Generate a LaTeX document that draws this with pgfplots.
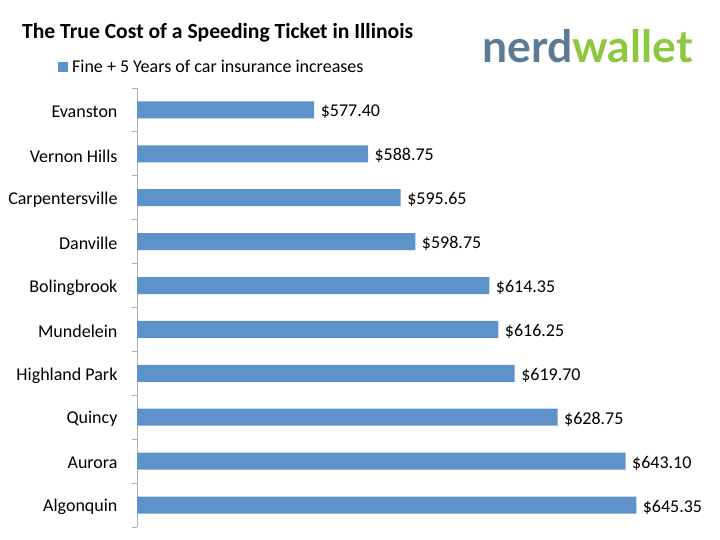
\documentclass[border=0pt]{standalone}
\usepackage{pgfplots}
\pgfplotsset{compat=1.18}
\usepackage{fontspec}
\setmainfont{Carlito}
\newfontfamily\logofont{Lato}
\definecolor{barblue}{RGB}{94,147,201}
\definecolor{nerdblue}{RGB}{92,122,148}
\definecolor{nerdgreen}{RGB}{141,198,63}
\definecolor{axisgray}{RGB}{175,175,175}
\begin{document}
\begin{tikzpicture}
\path[use as bounding box] (0pt,0pt) rectangle (720pt,540pt);
\node[anchor=west,font=\fontsize{21.6}{26}\selectfont\bfseries,inner sep=0pt] at (22pt,507pt) {The True Cost of a Speeding Ticket in Illinois};
\node[anchor=base west, font=\logofont\bfseries\fontsize{44.5}{50}\selectfont, inner sep=0pt] at (482pt,477pt) {\textcolor{nerdblue}{nerd}\textcolor{nerdgreen}{wallet}};
\begin{axis}[at={(137pt,13pt)}, anchor=south west, scale only axis,
  width=568.7pt, height=439pt,
  xbar, xmin=540, xmax=660, ymin=-0.5, ymax=9.5, bar width=17pt,
  hide x axis, axis y line*=left,
  axis line style={axisgray, line width=0.8pt},
  ytick={0,...,9},
  yticklabels={Algonquin,Aurora,Quincy,Highland Park,Mundelein,Bolingbrook,Danville,Carpentersville,Vernon Hills,Evanston},
  major tick length=0pt,
  minor ytick={-0.5,0.5,...,9.5},
  minor tick length=5pt, tick align=outside,
  minor tick style={axisgray, line width=0.8pt},
  yticklabel style={font=\fontsize{18}{22}\selectfont, xshift=-16pt, yshift=-2pt},
  /pgf/number format/assume math mode=true,
  nodes near coords={\$\pgfmathprintnumber[fixed,fixed zerofill,precision=2]{\pgfplotspointmeta}},
  point meta=x,
  nodes near coords style={font=\fontsize{18}{22}\selectfont, black, xshift=3pt, yshift=-2pt},
  legend style={at={(-0.139,1.048)}, anchor=west, draw=none, fill=none, inner sep=0pt,
    font=\fontsize{18}{22}\selectfont, nodes={inner xsep=4pt}},
  legend image code/.code={\fill[barblue] (0pt,-5pt) rectangle (10pt,5pt);},
]
\addplot[fill=barblue, draw=none] coordinates {
(645.35,0) (643.10,1) (628.75,2) (619.70,3) (616.25,4)
(614.35,5) (598.75,6) (595.65,7) (588.75,8) (577.40,9)};
\addlegendentry{Fine + 5 Years of car insurance increases}
\end{axis}
\end{tikzpicture}
\end{document}
